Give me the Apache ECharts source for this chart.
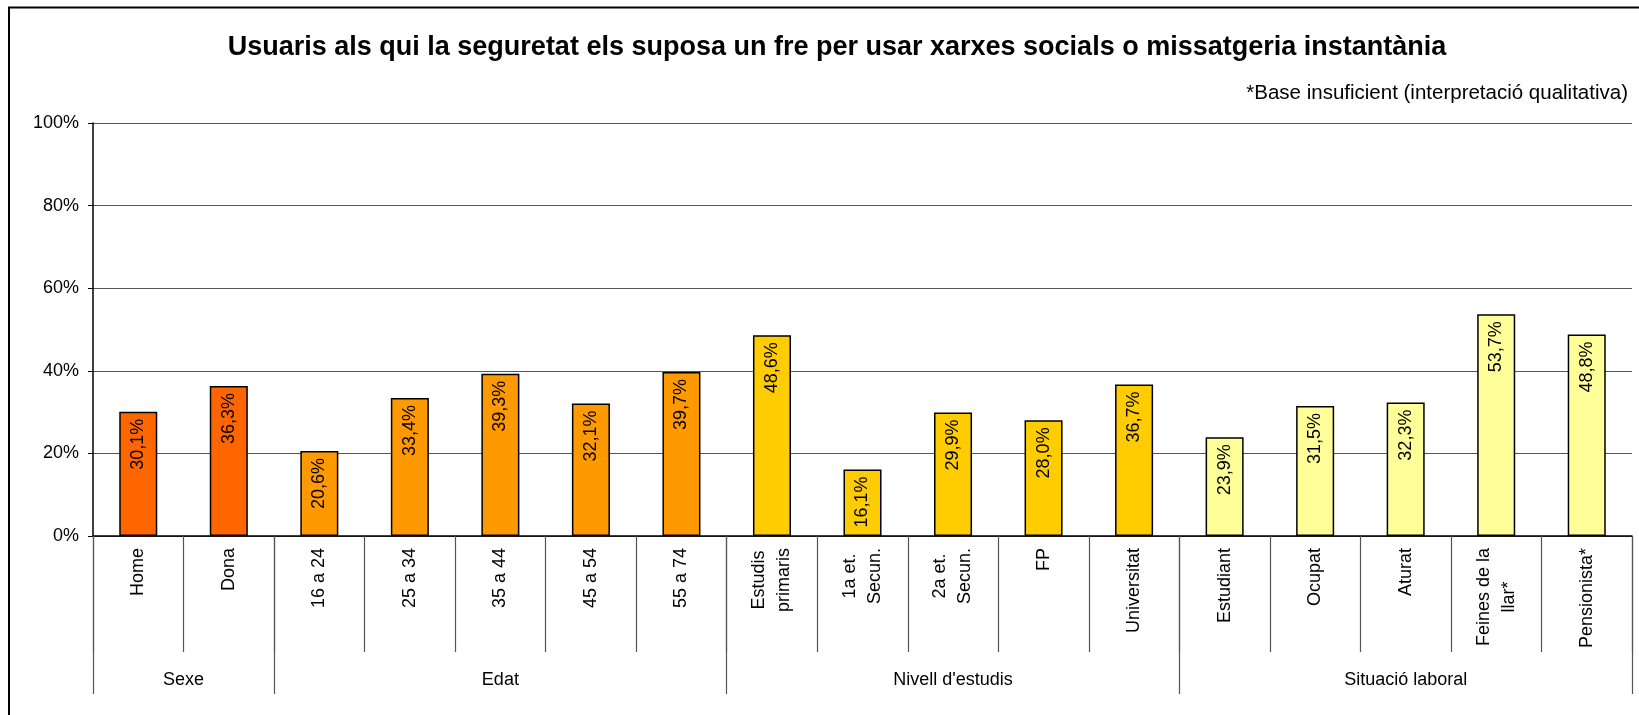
<!DOCTYPE html>
<html>
<head>
<meta charset="utf-8">
<script src="https://cdn.jsdelivr.net/npm/echarts@6/dist/echarts.min.js"></script>
<style>
html,body{margin:0;padding:0;background:#fff;}
#chart{width:1639px;height:715px;}
</style>
</head>
<body>
<div id="chart"></div>
<script>
var titleText = 'Usuaris als qui la seguretat els suposa un fre per usar xarxes socials o missatgeria instantània';
var noteText = '*Base insuficient (interpretació qualitativa)';
var categories = ['Home','Dona','16 a 24','25 a 34','35 a 44','45 a 54','55 a 74','Estudis\nprimaris','1a et.\nSecun.','2a et.\nSecun.','FP','Universitat','Estudiant','Ocupat','Aturat','Feines de la\nllar*','Pensionista*'];
var values = [30.1,36.3,20.6,33.4,39.3,32.1,39.7,48.6,16.1,29.9,28.0,36.7,23.9,31.5,32.3,53.7,48.8];
var groupNames = ['Sexe','Edat',"Nivell d'estudis",'Situació laboral'];
var groupSizes = [2,5,5,5];
var groupColors = ['#FF6600','#FF9900','#FFCC00','#FFFF99'];
var yTicks = [0,20,40,60,80,100];

// derived
var catColors = [];
var groupBounds = [0];
var groupCenters = [];
var acc = 0;
groupSizes.forEach(function(s, i){
  for (var k = 0; k < s; k++) catColors.push(groupColors[i]);
  groupCenters.push(acc + s / 2);
  acc += s;
  groupBounds.push(acc);
});
var barData = values.map(function(v, i){
  return { value: v, itemStyle: { color: catColors[i] } };
});
function pct(v){ return v.toFixed(1).replace('.', ',') + '%'; }

var font = '"Liberation Sans", Arial, sans-serif';
var chart = echarts.init(document.getElementById('chart'));
chart.setOption({
  animation: false,
  backgroundColor: '#fff',
  title: [
    { text: titleText, left: 832, top: 29, textAlign: 'center',
      textStyle: { fontFamily: font, fontSize: 27, fontWeight: 'bold', color: '#000' } },
    { text: noteText, right: 6, top: 78,
      textStyle: { fontFamily: font, fontSize: 20.5, fontWeight: 'normal', color: '#000' } }
  ],
  graphic: [
    { type: 'polyline', shape: { points: [[9, 730], [9, 7.5], [1650, 7.5]] },
      style: { stroke: '#000', lineWidth: 2, fill: null }, silent: true }
  ],
  grid: { left: 93, right: 7, top: 123, bottom: 179, containLabel: false },
  xAxis: [
    {
      type: 'category', data: categories, position: 'bottom',
      axisLine: { show: true, lineStyle: { color: '#000', width: 1.5 } },
      axisTick: { show: true, length: 116, lineStyle: { color: '#555', width: 1.2 } },
      axisLabel: { rotate: 90, margin: 12, interval: 0, fontFamily: font, fontSize: 18,
        color: '#000', lineHeight: 25, align: 'right',
        formatter: function(v){
          return v.split('\n').map(function(l){ return '{c|' + l + '}'; }).join('\n');
        },
        rich: { c: { align: 'center', fontFamily: font, fontSize: 18, color: '#000', lineHeight: 25 } } },
      splitLine: { show: false }
    },
    {
      type: 'value', min: 0, max: categories.length, position: 'bottom', gridIndex: 0,
      axisLine: { show: false },
      axisTick: { show: true, length: 158, customValues: groupBounds,
        lineStyle: { color: '#555', width: 1.2 } },
      axisLabel: { show: true, customValues: groupCenters, margin: 135,
        fontFamily: font, fontSize: 18, color: '#000',
        formatter: function(v){ var i = groupCenters.indexOf(v); return i >= 0 ? groupNames[i] : ''; } },
      splitLine: { show: false }
    }
  ],
  yAxis: {
    type: 'value', min: yTicks[0], max: yTicks[yTicks.length - 1], interval: yTicks[1] - yTicks[0],
    axisLine: { show: true, lineStyle: { color: '#000', width: 1.5 } },
    axisTick: { show: true, length: 5, lineStyle: { color: '#000' } },
    axisLabel: { margin: 14, fontFamily: font, fontSize: 18, color: '#000',
      formatter: function(v){ return v + '%'; } },
    splitLine: { show: true, lineStyle: { color: '#555', width: 1.2 } }
  },
  series: [{
    type: 'bar', xAxisIndex: 0, data: barData, barWidth: '42%',
    itemStyle: { borderColor: '#000', borderWidth: 1.5 },
    label: { show: true, position: 'insideTop', distance: 7, rotate: 90,
      align: 'right', verticalAlign: 'middle',
      fontFamily: font, fontSize: 18, color: '#000',
      formatter: function(p){ return pct(p.value); } }
  }]
});
</script>
</body>
</html>
